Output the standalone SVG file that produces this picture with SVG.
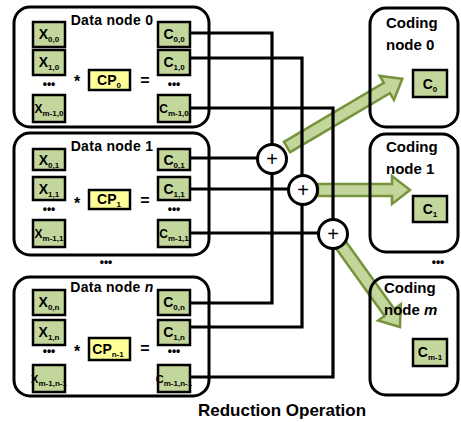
<svg xmlns="http://www.w3.org/2000/svg" width="461" height="422" viewBox="0 0 461 422">
<style>
.box{fill:none;stroke:#000;stroke-width:3}
.cell{fill:#c3d69b;stroke:#000;stroke-width:2.5}
.cp{fill:#ffff99;stroke:#000;stroke-width:2.5}
.wire{fill:none;stroke:#000;stroke-width:3.2}
.sum{fill:#fff;stroke:#000;stroke-width:3}
.arrow{fill:#c3d69b;stroke:#77933c;stroke-width:2.5;stroke-linejoin:miter}
text{font-family:"Liberation Sans",Arial,sans-serif;font-weight:bold;fill:#000}
.title{font-size:14px;letter-spacing:0.3px}
.ctitle{font-size:15px}
.lbl{font-size:14px;text-anchor:middle}
.sub{font-size:8px}
.op{font-size:16px;text-anchor:middle}
.dots{font-size:12px;text-anchor:middle}
</style>
<rect width="461" height="422" fill="#fff"/>
<g id="connectors">
  <path class="arrow" transform="translate(287,147) rotate(-30.6)" d="M0,-6 H116 V-14 L134,0 L116,14 V6 H0 Z"/>
  <path class="arrow" transform="translate(318,190)" d="M0,-6 H74 V-14 L92,0 L74,14 V6 H0 Z"/>
  <path class="arrow" transform="translate(341,245) rotate(54.3)" d="M0,-6 H83 V-14 L101,0 L83,14 V6 H0 Z"/>
  <path class="wire" d="M190,33 H272 V303 H190"/>
  <path class="wire" d="M190,58 H302 V327 H190"/>
  <path class="wire" d="M190,108 H333 V377 H190"/>
  <path class="wire" d="M190,158 H258"/>
  <path class="wire" d="M190,189 H289"/>
  <path class="wire" d="M190,233 H319"/>
</g>
<g id="sum0"><circle class="sum" cx="272" cy="159" r="14.5"/><text class="op" x="272" y="166" style="font-size:20px;font-weight:normal">+</text></g>
<g id="sum1"><circle class="sum" cx="303" cy="190" r="14.5"/><text class="op" x="303" y="197" style="font-size:20px;font-weight:normal">+</text></g>
<g id="sum2"><circle class="sum" cx="333" cy="234" r="14.5"/><text class="op" x="333" y="241" style="font-size:20px;font-weight:normal">+</text></g>

<g id="data-node-0">
  <rect class="box" x="14" y="7" width="195" height="120" rx="16"/>
  <text class="title" x="112" y="25" text-anchor="middle">Data node 0</text>
  <rect class="cell" x="33" y="22" width="32" height="25"/><text class="lbl" x="49" y="39">X<tspan class="sub" dy="3">0,0</tspan></text>
  <rect class="cell" x="33" y="50" width="32" height="25"/><text class="lbl" x="49" y="67">X<tspan class="sub" dy="3">1,0</tspan></text>
  <text class="dots" x="49" y="88">•••</text>
  <rect class="cell" x="33" y="95" width="32" height="27"/><text class="lbl" x="49" y="113" style="font-size:12px">X<tspan class="sub" dy="3">m-1,0</tspan></text>
  <text class="op" x="77" y="87">*</text>
  <rect class="cp" x="89" y="70" width="41" height="20"/><text class="lbl" x="109" y="85">CP<tspan class="sub" dy="3">0</tspan></text>
  <text class="op" x="145" y="86">=</text>
  <rect class="cell" x="158" y="22" width="32" height="25"/><text class="lbl" x="174" y="39">C<tspan class="sub" dy="3">0,0</tspan></text>
  <rect class="cell" x="158" y="50" width="32" height="25"/><text class="lbl" x="174" y="67">C<tspan class="sub" dy="3">1,0</tspan></text>
  <text class="dots" x="174" y="88">•••</text>
  <rect class="cell" x="158" y="95" width="32" height="27"/><text class="lbl" x="174" y="113" style="font-size:12px">C<tspan class="sub" dy="3">m-1,0</tspan></text>
</g>

<g id="data-node-1">
  <rect class="box" x="14" y="133" width="195" height="122" rx="16"/>
  <text class="title" x="112" y="151" text-anchor="middle">Data node 1</text>
  <rect class="cell" x="33" y="149" width="32" height="21"/><text class="lbl" x="49" y="165">X<tspan class="sub" dy="3">0,1</tspan></text>
  <rect class="cell" x="33" y="177" width="32" height="23"/><text class="lbl" x="49" y="194">X<tspan class="sub" dy="3">1,1</tspan></text>
  <text class="dots" x="49" y="213">•••</text>
  <rect class="cell" x="33" y="220" width="32" height="27"/><text class="lbl" x="49" y="238" style="font-size:12px">X<tspan class="sub" dy="3">m-1,1</tspan></text>
  <text class="op" x="77" y="209">*</text>
  <rect class="cp" x="89" y="190" width="41" height="19"/><text class="lbl" x="109" y="204">CP<tspan class="sub" dy="3">1</tspan></text>
  <text class="op" x="145" y="206">=</text>
  <rect class="cell" x="158" y="149" width="32" height="21"/><text class="lbl" x="174" y="165">C<tspan class="sub" dy="3">0,1</tspan></text>
  <rect class="cell" x="158" y="177" width="32" height="23"/><text class="lbl" x="174" y="194">C<tspan class="sub" dy="3">1,1</tspan></text>
  <text class="dots" x="174" y="213">•••</text>
  <rect class="cell" x="158" y="220" width="32" height="27"/><text class="lbl" x="174" y="238" style="font-size:12px">C<tspan class="sub" dy="3">m-1,1</tspan></text>
</g>

<text class="dots" x="106" y="266">•••</text>

<g id="data-node-n">
  <rect class="box" x="14" y="277" width="195" height="119" rx="16"/>
  <text class="title" x="112" y="292" text-anchor="middle">Data node <tspan font-style="italic">n</tspan></text>
  <rect class="cell" x="33" y="290" width="32" height="25"/><text class="lbl" x="49" y="307">X<tspan class="sub" dy="3">0,n</tspan></text>
  <rect class="cell" x="33" y="320" width="32" height="25"/><text class="lbl" x="49" y="337">X<tspan class="sub" dy="3">1,n</tspan></text>
  <text class="dots" x="49" y="355">•••</text>
  <rect class="cell" x="33" y="365" width="32" height="27"/><text class="lbl" x="49" y="383" style="font-size:11px">X<tspan class="sub" dy="3">m-1,n-1</tspan></text>
  <text class="op" x="77" y="357">*</text>
  <rect class="cp" x="89" y="338" width="41" height="22"/><text class="lbl" x="108" y="354">CP<tspan class="sub" dy="3">n-1</tspan></text>
  <text class="op" x="145" y="354">=</text>
  <rect class="cell" x="158" y="290" width="32" height="25"/><text class="lbl" x="174" y="307">C<tspan class="sub" dy="3">0,n</tspan></text>
  <rect class="cell" x="158" y="320" width="32" height="25"/><text class="lbl" x="174" y="337">C<tspan class="sub" dy="3">1,n</tspan></text>
  <text class="dots" x="174" y="355">•••</text>
  <rect class="cell" x="158" y="365" width="32" height="27"/><text class="lbl" x="174" y="383" style="font-size:11px">C<tspan class="sub" dy="3">m-1,n-1</tspan></text>
</g>

<g id="coding-node-0">
  <rect class="box" x="370" y="8" width="88" height="119" rx="16"/>
  <text class="ctitle" x="386" y="28">Coding</text>
  <text class="ctitle" x="386" y="50">node 0</text>
  <rect class="cell" x="413" y="70" width="34" height="27"/><text class="lbl" x="430" y="89">C<tspan class="sub" dy="3">0</tspan></text>
</g>
<g id="coding-node-1">
  <rect class="box" x="370" y="134" width="88" height="118" rx="16"/>
  <text class="ctitle" x="386" y="152">Coding</text>
  <text class="ctitle" x="386" y="174">node 1</text>
  <rect class="cell" x="413" y="196" width="34" height="26"/><text class="lbl" x="430" y="214">C<tspan class="sub" dy="3">1</tspan></text>
</g>
<text class="dots" x="438" y="266">•••</text>
<g id="coding-node-m">
  <rect class="box" x="370" y="277" width="88" height="118" rx="16"/>
  <text class="ctitle" x="384" y="293">Coding</text>
  <text class="ctitle" x="384" y="315">node <tspan font-style="italic">m</tspan></text>
  <rect class="cell" x="413" y="339" width="34" height="27"/><text class="lbl" x="430" y="357">C<tspan class="sub" dy="3">m-1</tspan></text>
</g>

<text x="282" y="416" text-anchor="middle" style="font-size:17px">Reduction Operation</text>
</svg>
